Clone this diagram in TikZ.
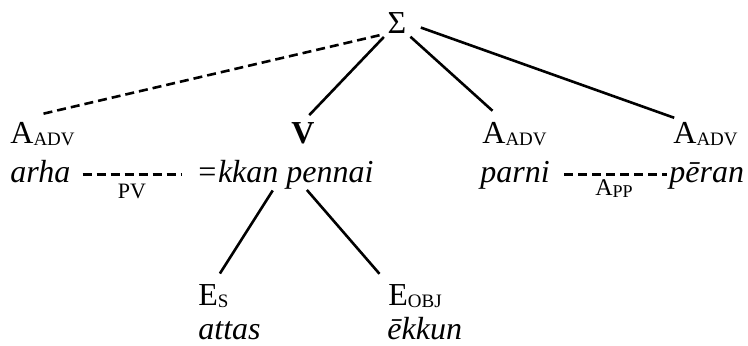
\documentclass[tikz,border=0pt]{standalone}
\usepackage{fontspec}
\setmainfont{Liberation Serif}
\usepackage{tikz}
\usetikzlibrary{positioning}

\newcommand{\lsub}[2][9.5]{\raisebox{-1pt}{\fontsize{#1}{#1}\selectfont #2}}

\begin{document}
\begin{tikzpicture}[x=0.5pt, y=-0.5pt,
        every node/.style={inner sep=0pt, font=\fontsize{16}{19}\selectfont},
        cat/.style={anchor=base west},
        form/.style={anchor=base west, font=\fontsize{16}{19}\selectfont\itshape,
            text height=0.9em, text depth=0.15em},
        link/.style={line width=1.3pt},
        dlink/.style={line width=1.3pt, dash pattern=on 4.5pt off 2.5pt}]
        \useasboundingbox (0,0) rectangle (748,345);

        \node (sig) [anchor=base] at (397,33) {Σ};

        \node (aL) [cat] at (10,143) {A\lsub{ADV}};
        \node (wL) [form] at (10,182) {arha};
        \node (vlab) [anchor=base] at (303,143) {\textbf{V}};
        \node (vform) [form] at (196,182) {=kkan pennai};
        \node (aM) [cat] at (482,143) {A\lsub{ADV}};
        \node (wM) [form] at (480,182) {parni};
        \node (aR) [cat] at (673,143) {A\lsub{ADV}};
        \node (wR) [form] at (669,182) {pēran};

        \node (pv) [anchor=base, font=\fontsize{11}{13}\selectfont] at (132,198) {PV};
        \node (app) [anchor=base, font=\fontsize{12}{14}\selectfont] at (614,195) {A\lsub[9]{PP}};

        \node (es) [cat] at (198,305) {E\lsub{S}};
        \node (ws) [form] at (198,339) {attas};
        \node (eo) [cat] at (388,305) {E\lsub{OBJ}};
        \node (wo) [form] at (387,339) {ēkkun};

        % tree
        \draw[dlink, shorten <=4pt, shorten >=16pt] (sig.south west) -- (aL.north west);
        \draw[link, shorten <=2.5pt, shorten >=4.5pt] (sig.south west) -- (vlab.north);
        \draw[link, shorten <=2.5pt, shorten >=8pt] (sig.south east) -- (aM.130);
        \draw[link, shorten <=7.5pt, shorten >=5.5pt] (sig.east) -- (aR.150);
        \draw[link, shorten <=3pt, shorten >=6pt] ([xshift=-4.5pt]vform.south) -- (es.north);
        \draw[link, shorten <=3pt, shorten >=6.5pt] ([xshift=9pt]vform.south) -- (eo.north west);

        % dashed relations
        \draw[dlink, shorten <=6pt, shorten >=7pt] (wL.east) -- (wL.east -| vform.west);
        \draw[dlink, shorten <=7pt, shorten >=1pt] (wM.east) -- (wM.east -| wR.west);
    \end{tikzpicture}
\end{document}
